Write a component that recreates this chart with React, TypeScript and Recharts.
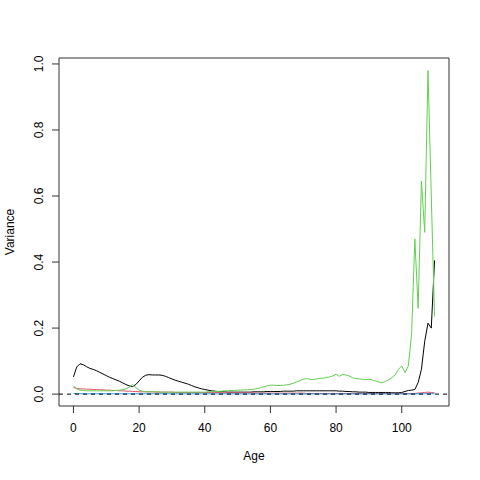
import React from "react";
import {
  LineChart,
  Line,
  XAxis,
  YAxis,
  ReferenceLine,
  ReferenceArea,
  Label,
} from "recharts";

const ages = [
  0, 1, 2, 3, 4, 5, 6, 7, 8, 9, 10, 11, 12, 13, 14, 15, 16, 17, 18, 19, 20, 21,
  22, 23, 24, 25, 26, 27, 28, 29, 30, 31, 32, 33, 34, 35, 36, 37, 38, 39, 40,
  41, 42, 43, 44, 45, 46, 47, 48, 49, 50, 51, 52, 53, 54, 55, 56, 57, 58, 59,
  60, 61, 62, 63, 64, 65, 66, 67, 68, 69, 70, 71, 72, 73, 74, 75, 76, 77, 78,
  79, 80, 81, 82, 83, 84, 85, 86, 87, 88, 89, 90, 91, 92, 93, 94, 95, 96, 97,
  98, 99, 100, 101, 102, 103, 104, 105, 106, 107, 108, 109, 110,
];

const blackSeries = [
  0.052, 0.082, 0.092, 0.089, 0.083, 0.078, 0.075, 0.071, 0.066, 0.061,
  0.056, 0.051, 0.047, 0.043, 0.039, 0.034, 0.029, 0.025, 0.023, 0.029,
  0.040, 0.051, 0.057, 0.059, 0.058, 0.058, 0.058, 0.057, 0.054, 0.050,
  0.046, 0.042, 0.039, 0.036, 0.033, 0.030, 0.026, 0.022, 0.019, 0.016,
  0.014, 0.012, 0.010, 0.009, 0.008, 0.007, 0.007, 0.006, 0.006, 0.006,
  0.006, 0.006, 0.006, 0.006, 0.006, 0.007, 0.007, 0.007, 0.007, 0.008,
  0.008, 0.008, 0.008, 0.008, 0.009, 0.009, 0.009, 0.009, 0.010, 0.010,
  0.010, 0.010, 0.010, 0.010, 0.010, 0.010, 0.010, 0.010, 0.010, 0.010,
  0.010, 0.009, 0.009, 0.008, 0.008, 0.007, 0.007, 0.006, 0.006, 0.006,
  0.005, 0.005, 0.005, 0.005, 0.005, 0.005, 0.005, 0.004, 0.004, 0.004,
  0.005, 0.008, 0.011, 0.012, 0.014, 0.035, 0.075, 0.16, 0.215, 0.2,
  0.405,
];

const redSeries = [
  0.02, 0.017, 0.016, 0.016, 0.015, 0.015, 0.014, 0.014, 0.013, 0.013,
  0.012, 0.012, 0.011, 0.011, 0.01, 0.01, 0.009, 0.009, 0.008, 0.008,
  0.007, 0.007, 0.007, 0.007, 0.007, 0.006, 0.006, 0.006, 0.006, 0.006,
  0.006, 0.005, 0.005, 0.005, 0.005, 0.005, 0.005, 0.005, 0.005, 0.005,
  0.005, 0.005, 0.005, 0.005, 0.005, 0.004, 0.004, 0.004, 0.004, 0.004,
  0.004, 0.004, 0.004, 0.004, 0.004, 0.003, 0.003, 0.003, 0.003, 0.003,
  0.003, 0.003, 0.003, 0.003, 0.003, 0.003, 0.003, 0.003, 0.003, 0.003,
  0.003, 0.002, 0.002, 0.002, 0.002, 0.002, 0.002, 0.002, 0.002, 0.002,
  0.002, 0.002, 0.002, 0.002, 0.002, 0.002, 0.002, 0.002, 0.002, 0.002,
  0.002, 0.002, 0.002, 0.002, 0.002, 0.002, 0.002, 0.002, 0.002, 0.002,
  0.002, 0.002, 0.002, 0.002, 0.002, 0.003, 0.004, 0.005, 0.006, 0.005,
  0.004,
];

const greenSeries = [
  0.025, 0.016, 0.012, 0.011, 0.01, 0.01, 0.01, 0.01, 0.01, 0.01,
  0.01, 0.01, 0.01, 0.011, 0.012, 0.013, 0.016, 0.021, 0.029, 0.02,
  0.012, 0.009, 0.007, 0.007, 0.007, 0.007, 0.007, 0.006, 0.006, 0.006,
  0.006, 0.006, 0.006, 0.006, 0.006, 0.006, 0.006, 0.006, 0.006, 0.006,
  0.006, 0.007, 0.007, 0.008, 0.008, 0.009, 0.01, 0.01, 0.011, 0.011,
  0.012, 0.012, 0.013, 0.013, 0.014, 0.015, 0.017, 0.019, 0.022, 0.025,
  0.027, 0.027, 0.026, 0.026, 0.027, 0.028, 0.03, 0.033, 0.037, 0.041,
  0.045, 0.047, 0.045, 0.044, 0.046, 0.048, 0.048, 0.05, 0.052, 0.055,
  0.06, 0.054, 0.06, 0.058, 0.055, 0.05, 0.047, 0.046, 0.045, 0.044,
  0.045, 0.043, 0.04, 0.037, 0.034, 0.038, 0.043, 0.05, 0.058, 0.075,
  0.085, 0.065, 0.085, 0.18, 0.47, 0.26, 0.645, 0.49, 0.98, 0.6,
  0.235,
];

const blueSeries = [
  0.002, 0.0015, 0.0012, 0.001, 0.001, 0.001, 0.001, 0.001, 0.001, 0.001,
  0.001, 0.001, 0.001, 0.001, 0.001, 0.001, 0.001, 0.001, 0.001, 0.001,
  0.001, 0.001, 0.001, 0.001, 0.001, 0.001, 0.001, 0.001, 0.001, 0.001,
  0.0008, 0.0008, 0.0008, 0.0008, 0.0008, 0.0008, 0.0008, 0.0008, 0.0008, 0.0008,
  0.0008, 0.0008, 0.0008, 0.0008, 0.0008, 0.0008, 0.0008, 0.0008, 0.0008, 0.0008,
  0.0006, 0.0006, 0.0006, 0.0006, 0.0006, 0.0006, 0.0006, 0.0006, 0.0006, 0.0006,
  0.0006, 0.0006, 0.0006, 0.0006, 0.0006, 0.0006, 0.0006, 0.0006, 0.0006, 0.0006,
  0.0005, 0.0005, 0.0005, 0.0005, 0.0005, 0.0005, 0.0005, 0.0005, 0.0005, 0.0005,
  0.0005, 0.0005, 0.0005, 0.0005, 0.0005, 0.0005, 0.0005, 0.0005, 0.0005, 0.0005,
  0.0005, 0.0005, 0.0005, 0.0005, 0.0005, 0.0005, 0.0005, 0.0005, 0.0005, 0.0005,
  0.0005, 0.0005, 0.0005, 0.0006, 0.0006, 0.0007, 0.0008, 0.001, 0.0012, 0.0012,
  0.001,
];

const xTicks = [0, 20, 40, 60, 80, 100];
const yTicks = [0, 0.2, 0.4, 0.6, 0.8, 1.0];

const xDomain: [number, number] = [-4.4, 114.4];
const yDomain: [number, number] = [-0.036, 1.018];

const font = "'Liberation Sans', Arial, Helvetica, sans-serif";
const axisColor = "#333";

const data = ages.map((age, i) => ({
  age,
  black: blackSeries[i],
  red: redSeries[i],
  green: greenSeries[i],
  blue: blueSeries[i],
}));

const XTick = (props: any) => {
  const { x, y, payload } = props;
  return (
    <text
      x={x}
      y={y + 17}
      textAnchor="middle"
      fontFamily={font}
      fontSize={12}
      fill="#000"
    >
      {payload.value}
    </text>
  );
};

const YTick = (props: any) => {
  const { x, y, payload } = props;
  return (
    <text
      transform={`translate(${x - 7.5}, ${y}) rotate(-90)`}
      textAnchor="middle"
      fontFamily={font}
      fontSize={12}
      fill="#000"
    >
      {Number(payload.value).toFixed(1)}
    </text>
  );
};

export default function App() {
  return (
    <div
      style={{
        position: "absolute",
        left: 0,
        top: 0,
        width: 480,
        height: 480,
        background: "#fff",
      }}
    >
      <LineChart
        width={480}
        height={480}
        data={data}
        margin={{ top: 58, right: 31, bottom: 0, left: 0 }}
      >
        <XAxis
          dataKey="age"
          type="number"
          domain={xDomain}
          ticks={xTicks}
          allowDataOverflow
          height={74}
          axisLine={false}
          tickSize={7}
          tickLine={{ stroke: axisColor }}
          tick={<XTick />}
        >
          <Label
            content={() => (
              <text
                x={254}
                y={460}
                textAnchor="middle"
                fontFamily={font}
                fontSize={12}
                fill="#000"
              >
                Age
              </text>
            )}
          />
        </XAxis>
        <YAxis
          type="number"
          domain={yDomain}
          ticks={yTicks}
          allowDataOverflow
          width={59}
          axisLine={false}
          tickSize={7}
          tickLine={{ stroke: axisColor }}
          tick={<YTick />}
        >
          <Label
            content={() => (
              <text
                transform="translate(13.5, 232) rotate(-90)"
                textAnchor="middle"
                fontFamily={font}
                fontSize={12}
                fill="#000"
              >
                Variance
              </text>
            )}
          />
        </YAxis>
        <ReferenceArea
          x1={xDomain[0]}
          x2={xDomain[1]}
          y1={yDomain[0]}
          y2={yDomain[1]}
          fill="none"
          fillOpacity={0}
          stroke={axisColor}
          strokeWidth={1}
          ifOverflow="visible"
        />
        <Line
          dataKey="black"
          type="linear"
          stroke="#000000"
          strokeWidth={1}
          dot={false}
          isAnimationActive={false}
        />
        <Line
          dataKey="red"
          type="linear"
          stroke="#DF536B"
          strokeWidth={1}
          dot={false}
          isAnimationActive={false}
        />
        <Line
          dataKey="green"
          type="linear"
          stroke="#61D04F"
          strokeWidth={1}
          dot={false}
          isAnimationActive={false}
        />
        <Line
          dataKey="blue"
          type="linear"
          stroke="#2297E6"
          strokeWidth={1}
          dot={false}
          isAnimationActive={false}
        />
        <ReferenceLine
          y={0}
          stroke="#000"
          strokeWidth={1}
          strokeDasharray="4 4"
        />
      </LineChart>
    </div>
  );
}
